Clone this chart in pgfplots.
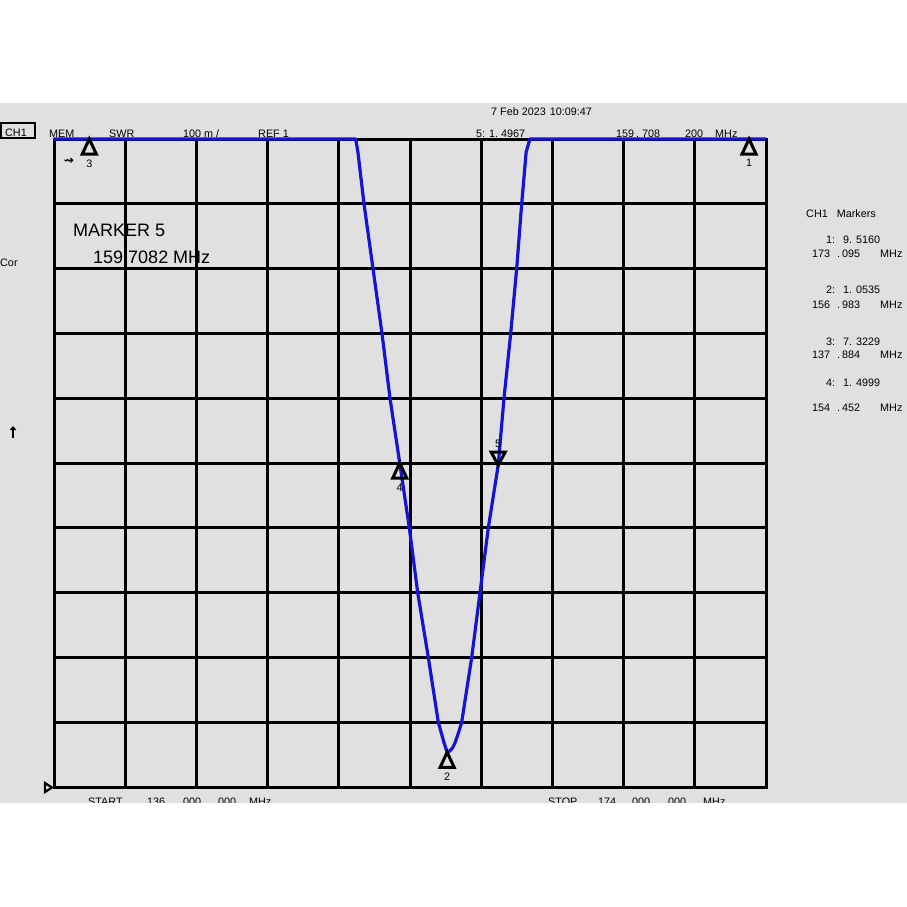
\documentclass[border=0pt]{standalone}
\usepackage{fontspec}
\setmainfont{Liberation Sans}
\newfontfamily\dejavu{DejaVu Sans}
\usepackage{pgfplots}
\pgfplotsset{compat=1.18}
\usetikzlibrary{arrows.meta}
\definecolor{panel}{RGB}{224,224,224}
\definecolor{trace}{RGB}{20,20,215}
\newcommand\sm{\fontsize{10.8}{12}\selectfont}
% marker triangles, apex on the data point
\pgfdeclareplotmark{mkup}{%
  \pgfpathmoveto{\pgfpointorigin}%
  \pgfpathlineto{\pgfpoint{-7pt}{-15pt}}%
  \pgfpathlineto{\pgfpoint{7pt}{-15pt}}%
  \pgfpathclose\pgfusepathqstroke}
\pgfdeclareplotmark{mkdown}{%
  \pgfpathmoveto{\pgfpointorigin}%
  \pgfpathlineto{\pgfpoint{-7pt}{13pt}}%
  \pgfpathlineto{\pgfpoint{7pt}{13pt}}%
  \pgfpathclose\pgfusepathqstroke}
\begin{document}
\begin{tikzpicture}[t/.style={anchor=base west,inner sep=0pt,font=\sm}]
\begin{scope}[x=1pt,y=1pt]
\path[use as bounding box,fill=white] (0,0) rectangle (907,-907);
\fill[panel] (0,-103) rectangle (907,-803);
\coordinate (O) at (54,-787);

% header line
\draw[line width=2pt] (1,-123) rectangle (35,-138);
\node[t] at (5,-136) {CH1};
\node[t] at (49,-137) {MEM};
\node[t] at (109,-137) {SWR};
\node[t] at (183,-137) {100 m /};
\node[t] at (258,-137) {REF 1};
\node[t] at (491,-115) {7 Feb 2023\hspace{4pt}10:09:47};
\node[t] at (476,-137) {5:};
\node[t] at (489,-137) {1.\hspace{3pt}4967};
\node[t] at (616,-137) {159};
\node[t] at (636,-137) {.};
\node[t] at (642,-137) {708};
\node[t] at (685,-137) {200};
\node[t] at (715,-137) {MHz};

% left side
\node[t] at (0,-266) {Cor};
\draw[line width=2.4pt,-{Triangle[length=4pt,width=6.5pt]}] (13,-438) -- (13,-426);
\node[anchor=center,inner sep=0pt,font=\dejavu\bfseries\fontsize{12}{12}\selectfont] at (69,-161) {⇝};
\draw[line width=2.2pt] (45,-783) -- (52,-787.5) -- (45,-792) -- cycle;

% big marker readout (under the grid)
\node[anchor=base west,inner sep=0pt,font=\fontsize{18}{20}\selectfont] at (73,-236) {MARKER 5};
\node[anchor=base west,inner sep=0pt,font=\fontsize{18}{20}\selectfont] at (93,-263) {159.7082 MHz};

% marker table
\node[t] at (806,-217) {CH1\hspace{9pt}Markers};
\foreach \n/\v/\a/\b/\yy/\yf in {1/9. 5160/173/095/243/257, 2/1. 0535/156/983/293/308, 3/7. 3229/137/884/345/358, 4/1. 4999/154/452/386/411}{
  \node[t] at (826,-\yy) {\n:};
  \node[t] at (843,-\yy) {\v};
  \node[t] at (812,-\yf) {\a};
  \node[t] at (837,-\yf) {.\hspace{2pt}\b};
  \node[t] at (880,-\yf) {MHz};
}
\end{scope}

\begin{axis}[at={(O)}, anchor=south west, scale only axis,
  width=712pt, height=648pt,
  xmin=136, xmax=174, ymin=1, ymax=2,
  xtick={139.8,143.6,147.4,151.2,155,158.8,162.6,166.4,170.2},
  ytick={1.1,1.2,1.3,1.4,1.5,1.6,1.7,1.8,1.9},
  xticklabels={}, yticklabels={}, major tick length=0pt,
  grid=major, grid style={black,line width=3pt},
  axis line style={black,line width=3pt},
  clip=false]
% SWR trace, clipped at 2.0 on screen
\addplot[trace, line width=3.2pt, line join=round] coordinates {
 (136,2.0) (152.10,2.0) (152.22,1.98) (152.545,1.9) (153.025,1.8)
 (153.505,1.7) (153.933,1.6) (154.452,1.4999) (154.963,1.4) (155.411,1.3)
 (155.977,1.2) (156.51,1.1) (156.80,1.07) (156.983,1.0535) (157.12,1.0555)
 (157.26,1.06) (157.40,1.068) (157.58,1.083) (157.759,1.1) (158.293,1.2)
 (158.736,1.3) (159.179,1.4) (159.708,1.4967) (160.017,1.6) (160.374,1.7)
 (160.694,1.8) (160.961,1.9) (161.20,1.98) (161.40,2.0) (174,2.0)};
% markers 1-4
\addplot[only marks, mark=mkup, black, line width=3pt,
  point meta=explicit symbolic, nodes near coords,
  every node near coord/.append style={anchor=north,yshift=-19pt,inner sep=0pt,font=\sm}]
  coordinates {(173.095,2.0)[1] (156.983,1.0535)[2] (137.884,2.0)[3] (154.452,1.4999)[4]};
% marker 5
\addplot[only marks, mark=mkdown, black, line width=3pt,
  point meta=explicit symbolic, nodes near coords,
  every node near coord/.append style={anchor=south,yshift=16pt,inner sep=0pt,font=\sm}]
  coordinates {(159.708,1.4967)[5]};
\end{axis}

% footer, cut by the panel edge
\begin{scope}[x=1pt,y=1pt]
\node[t] at (88,-805) {START};
\node[t] at (147,-805) {136};
\node[t] at (183,-805) {000};
\node[t] at (218,-805) {000};
\node[t] at (249,-805) {MHz};
\node[t] at (548,-805) {STOP};
\node[t] at (598,-805) {174};
\node[t] at (632,-805) {000};
\node[t] at (668,-805) {000};
\node[t] at (703,-805) {MHz};
\fill[white] (0,-803) rectangle (907,-907);
\end{scope}
\end{tikzpicture}
\end{document}
